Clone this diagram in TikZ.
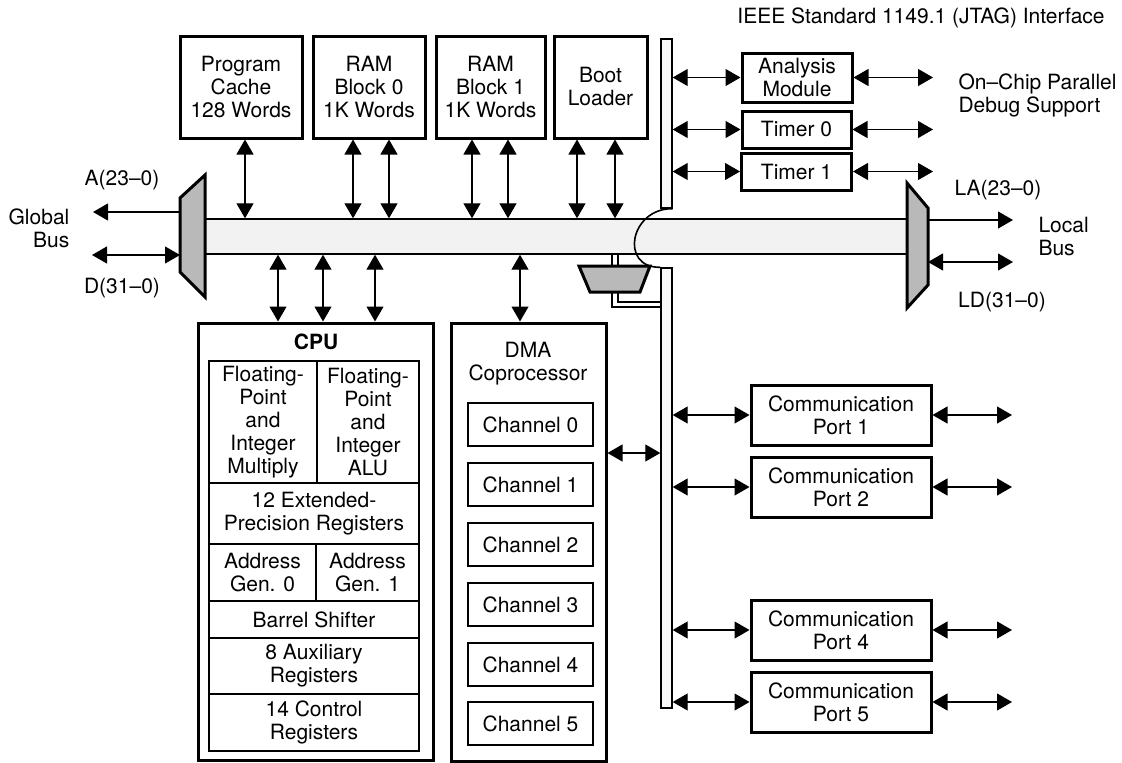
\documentclass[tikz,border=0pt]{standalone}
\usepackage{fontspec}
\setmainfont{TeX Gyre Heros}
\usetikzlibrary{arrows.meta}
\tikzset{
  blk/.style={draw, line width=3pt, fill=white, align=center, inner sep=0pt},
  cell/.style={draw, line width=1.3pt, align=center, inner sep=0pt},
  chan/.style={draw, line width=1.6pt, align=center, inner sep=0pt, minimum width=125pt, minimum height=43pt},
  comport/.style={blk, minimum width=180pt, minimum height=60pt},
  lnk/.style={line width=1.1pt},
  bus/.style={draw, line width=1.4pt, fill=gray!10, inner sep=0pt},
  mux/.style={draw, line width=3pt, fill=gray!55, line join=miter}
}
\begin{document}
\begin{tikzpicture}[x=1pt, y=-1pt, >={Triangle[length=15pt,width=17pt]}, font=\fontsize{21}{23}\selectfont]
\useasboundingbox (0,0) rectangle (1122,763);
\node[bus, minimum width=707pt, minimum height=35pt] (gbus) at (558.5,236.5) {};
\node[bus, fill=gray!5, minimum width=11pt, minimum height=169pt] (pbusup) at (666.5,123.5) {};
\node[bus, fill=gray!5, minimum width=11pt, minimum height=440pt] (pbuslo) at (666.5,488) {};
\draw[line width=1.6pt] (pbusup.south east) .. controls (630,208) and (619,268) .. (pbuslo.north west);
\draw[line width=1.4pt, fill=white] (612,254) rectangle (618,266);
\draw[line width=1.4pt, fill=white] (612,292) -- (612,307) -- (661,307) -- (661,302) -- (618,302) -- (618,292);
\draw[mux] (579,266) -- (650,266) -- (640,292) -- (590,292) -- cycle;
\draw[mux] (205,175) -- (205,297) -- (180,272) -- (180,198) -- cycle;
\draw[mux] (907,183) -- (928,208) -- (928,285) -- (907,308) -- cycle;
\coordinate (gmuxA) at (180,212);
\coordinate (gmuxD) at (180,255);
\coordinate (lmuxA) at (928,220);
\coordinate (lmuxD) at (928,262);
\coordinate (gAend) at (93,212);
\coordinate (gDend) at (92,255);
\coordinate (lAend) at (1013,220);
\coordinate (lDend) at (1013,262);
\node[blk, minimum width=122pt, minimum height=102pt] (cache) at (241,87) {Program\\Cache\\128 Words};
\node[blk, minimum width=112pt, minimum height=102pt] (ram0) at (369,87) {RAM\\Block 0\\1K Words};
\node[blk, minimum width=109pt, minimum height=102pt] (ram1) at (490.5,87) {RAM\\Block 1\\1K Words};
\node[blk, minimum width=93pt, minimum height=102pt] (boot) at (600.5,87) {Boot\\Loader};
\node[blk, minimum width=110pt, minimum height=49pt] (analysis) at (797,77.5) {Analysis\\Module};
\node[blk, minimum width=109pt, minimum height=37pt] (timer0) at (796.5,129.5) {Timer 0};
\node[blk, minimum width=110pt, minimum height=37pt] (timer1) at (796.5,171.5) {Timer 1};
\node (jtag) at (921,18) {IEEE Standard 1149.1 (JTAG) Interface};
\node[align=left, anchor=west] (debug) at (955,95) {On–Chip Parallel\\Debug Support};
\node (gA) at (122,180) {A(23–0)};
\node (gD) at (122,288) {D(31–0)};
\node[align=right] (global) at (39,228) {Global\\Bus};
\node (lA) at (998,190) {LA(23–0)};
\node (lD) at (1002,302) {LD(31–0)};
\node[align=left, anchor=west] (local) at (1035,236) {Local\\Bus};
\node[blk, minimum width=235pt, minimum height=437pt] (cpu) at (315.5,541.5) {};
\node[font=\fontsize{21}{23}\selectfont\bfseries] (cpulbl) at (316,342) {CPU};
\node[cell, minimum width=108pt, minimum height=122pt] (fpmul) at (263,422) {Floating-\\Point\\and\\Integer\\Multiply};
\node[cell, minimum width=102pt, minimum height=122pt] (fpalu) at (368,422) {Floating-\\Point\\and\\Integer\\ALU};
\node[cell, minimum width=210pt, minimum height=61pt] (extreg) at (314,513.5) {12 Extended-\\Precision Registers};
\node[cell, minimum width=107pt, minimum height=57pt] (agen0) at (262.5,572.5) {Address\\Gen. 0};
\node[cell, minimum width=103pt, minimum height=57pt] (agen1) at (367.5,572.5) {Address\\Gen. 1};
\node[cell, minimum width=210pt, minimum height=37pt] (barrel) at (314,619.5) {Barrel Shifter};
\node[cell, minimum width=210pt, minimum height=56pt] (auxreg) at (314,666) {8 Auxiliary\\Registers};
\node[cell, minimum width=210pt, minimum height=57pt] (ctlreg) at (314,722.5) {14 Control\\Registers};
\node[blk, minimum width=155pt, minimum height=438pt] (dma) at (528.5,542) {};
\node[align=center] (dmalbl) at (528,364) {DMA\\Coprocessor};
\node[chan] (ch0) at (530.5,424.5) {Channel 0};
\node[chan] (ch1) at (530.5,484.5) {Channel 1};
\node[chan] (ch2) at (530.5,544.5) {Channel 2};
\node[chan] (ch3) at (530.5,604.5) {Channel 3};
\node[chan] (ch4) at (530.5,664.5) {Channel 4};
\node[chan] (ch5) at (530.5,723.5) {Channel 5};
\node[comport] (com1) at (841,415) {Communication\\Port 1};
\node[comport] (com2) at (841,487) {Communication\\Port 2};
\node[comport] (com4) at (841,630) {Communication\\Port 4};
\node[comport] (com5) at (841,702) {Communication\\Port 5};
\draw[lnk, ->] (gmuxA) -- (gAend);
\draw[lnk, <->] (gmuxD) -- (gDend);
\draw[lnk, ->] (lmuxA) -- (lAend);
\draw[lnk, <->] (lmuxD) -- (lDend);
\draw[lnk, <->] (245,0 |- cache.south) -- (245,0 |- gbus.north);
\draw[lnk, <->] (353,0 |- ram0.south) -- (353,0 |- gbus.north);
\draw[lnk, <->] (389,0 |- ram0.south) -- (389,0 |- gbus.north);
\draw[lnk, <->] (472,0 |- ram1.south) -- (472,0 |- gbus.north);
\draw[lnk, <->] (508,0 |- ram1.south) -- (508,0 |- gbus.north);
\draw[lnk, <->] (577,0 |- boot.south) -- (577,0 |- gbus.north);
\draw[lnk, <->] (615,0 |- boot.south) -- (615,0 |- gbus.north);
\draw[lnk, <->] (278,0 |- gbus.south) -- (278,0 |- cpu.north);
\draw[lnk, <->] (323,0 |- gbus.south) -- (323,0 |- cpu.north);
\draw[lnk, <->] (375,0 |- gbus.south) -- (375,0 |- cpu.north);
\draw[lnk, <->] (520,0 |- gbus.south) -- (520,0 |- dma.north);
\draw[lnk, <->] (dma.east |- 0,453) -- (pbuslo.west |- 0,453);
\draw[lnk, <->] (pbusup.east |- analysis.west) -- (analysis.west);
\draw[lnk, <->] (pbusup.east |- timer0.west) -- (timer0.west);
\draw[lnk, <->] (pbusup.east |- timer1.west) -- (timer1.west);
\draw[lnk, <->] (analysis.east) -- (933,0 |- analysis.east);
\draw[lnk, <->] (timer0.east) -- (933,0 |- timer0.east);
\draw[lnk, <->] (timer1.east) -- (933,0 |- timer1.east);
\draw[lnk, <->] (pbuslo.east |- com1.west) -- (com1.west);
\draw[lnk, <->] (pbuslo.east |- com2.west) -- (com2.west);
\draw[lnk, <->] (pbuslo.east |- com4.west) -- (com4.west);
\draw[lnk, <->] (pbuslo.east |- com5.west) -- (com5.west);
\draw[lnk, <->] (com1.east) -- (1012,0 |- com1.east);
\draw[lnk, <->] (com2.east) -- (1012,0 |- com2.east);
\draw[lnk, <->] (com4.east) -- (1012,0 |- com4.east);
\draw[lnk, <->] (com5.east) -- (1012,0 |- com5.east);
\end{tikzpicture}
\end{document}
